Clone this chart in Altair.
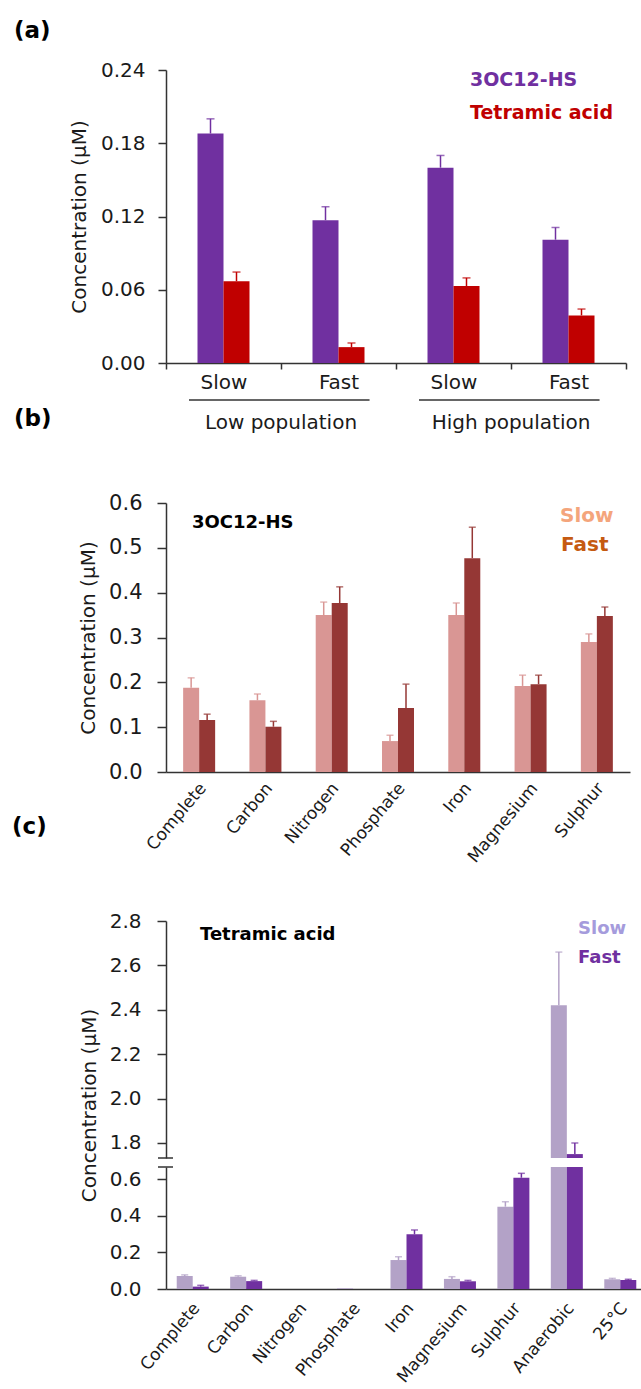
import altair as alt
import pandas as pd

# ---------------- data ----------------
# (a)
a_groups = ["Low-Slow", "Low-Fast", "High-Slow", "High-Fast"]
a_series = ["3OC12-HS", "Tetramic acid"]
a_hs = [0.188, 0.117, 0.160, 0.101]
a_hs_err = [0.200, 0.128, 0.170, 0.111]
a_ta = [0.067, 0.013, 0.063, 0.039]
a_ta_err = [0.0745, 0.0164, 0.0697, 0.0442]
populations = ["Low population", "High population"]

# (b)
b_cats = ["Complete", "Carbon", "Nitrogen", "Phosphate", "Iron", "Magnesium", "Sulphur"]
speeds = ["Slow", "Fast"]
b_slow = [0.188, 0.160, 0.350, 0.069, 0.350, 0.192, 0.290]
b_slow_err = [0.210, 0.174, 0.379, 0.082, 0.377, 0.216, 0.308]
b_fast = [0.116, 0.101, 0.377, 0.143, 0.477, 0.196, 0.348]
b_fast_err = [0.129, 0.113, 0.413, 0.196, 0.546, 0.216, 0.368]

# (c)
c_cats = ["Complete", "Carbon", "Nitrogen", "Phosphate", "Iron", "Magnesium",
          "Sulphur", "Anaerobic", "25°C"]
c_slow = [0.071, 0.067, 0.0, 0.004, 0.158, 0.055, 0.449, 2.42, 0.053]
c_slow_err = [0.077, 0.072, 0.0, 0.004, 0.176, 0.067, 0.476, 2.66, 0.058]
c_fast = [0.013, 0.043, 0.0, 0.0, 0.298, 0.042, 0.607, 1.75, 0.049]
c_fast_err = [0.020, 0.047, 0.0, 0.0, 0.322, 0.047, 0.631, 1.80, 0.053]
c_break_low = 0.6655   # top of lower segment
c_break_high = 1.7324  # bottom of upper segment

# ---------------- style ----------------
FONT = "DejaVu Sans"
INK = "#1a1a1a"
LINE = "#333333"
TITLE = "Concentration (µM)"


def label(text, x, y, size, color="#000000", weight="bold"):
    return alt.Chart(alt.Data(values=[{"t": text}])).mark_text(
        text=text, font=FONT, fontSize=size, fontWeight=weight, color=color,
        align="left", baseline="middle"
    ).encode(x=alt.value(x), y=alt.value(y))


def long_df(cats, series, vals, errs):
    rows = []
    for s, v, e in zip(series, vals, errs):
        for c, vv, ee in zip(cats, v, e):
            rows.append({"cat": c, "series": s, "value": vv, "err": ee})
    return pd.DataFrame(rows)


def pair_range(width, n, bar):
    step = width / n
    return [step / 2 - bar, step / 2 + bar]


# ---------------- panel (a) ----------------
A_W, A_H = 460, 293
a_df = long_df(a_groups, a_series, [a_hs, a_ta], [a_hs_err, a_ta_err])
a_x = alt.X("cat:N", sort=a_groups,
            scale=alt.Scale(domain=a_groups, paddingInner=0, paddingOuter=0),
            axis=alt.Axis(title=None, labelAngle=0,
                          labelExpr="split(datum.value, '-')[1]",
                          tickBand="extent", tickSize=6, labelFontSize=20,
                          labelPadding=3, labelBaseline="top"))
a_xo = alt.XOffset("series:N", sort=a_series,
                   scale=alt.Scale(domain=a_series, paddingInner=0, paddingOuter=0,
                                   range=pair_range(A_W, len(a_groups), 26)))
a_ys = alt.Scale(domain=[0, 0.24], nice=False)
a_ya = alt.Axis(title=TITLE, values=[0, 0.06, 0.12, 0.18, 0.24], format=".2f",
                labelFontSize=20, tickSize=8, labelPadding=13, titlePadding=11)
a_col = alt.Color("series:N", scale=alt.Scale(domain=a_series, range=["#7030a0", "#c00000"]),
                  legend=None)
a_base = alt.Chart(a_df).encode(x=a_x, xOffset=a_xo, color=a_col)
a_bars = a_base.mark_bar().encode(y=alt.Y("value:Q", scale=a_ys, axis=a_ya, stack=None))
a_err_df = a_base.transform_filter("datum.err > datum.value")
a_rule = a_err_df.mark_rule(strokeWidth=1.5).encode(
    y=alt.Y("value:Q", scale=a_ys, axis=a_ya), y2="err:Q")
a_cap = a_err_df.mark_tick(thickness=1.5, size=8).encode(
    y=alt.Y("err:Q", scale=a_ys, axis=a_ya))
a_main = alt.layer(a_bars, a_rule, a_cap)

pop_df = pd.DataFrame({
    "label": populations,
    "mid": [2 * i + 1.0 for i in range(len(populations))],
    "start": [2 * i + 0.2 for i in range(len(populations))],
    "end": [2 * i + 1.77 for i in range(len(populations))],
})
pop_scale = alt.Scale(domain=[0, len(a_groups)], nice=False, zero=False)
a_under = alt.Chart(pop_df).mark_rule(color=LINE, strokeWidth=1.5).encode(
    x=alt.X("start:Q", scale=pop_scale, axis=None), x2="end:Q", y=alt.value(330))
a_poptext = alt.Chart(pop_df).mark_text(font=FONT, fontSize=20, color=INK,
                                        baseline="middle").encode(
    x=alt.X("mid:Q", scale=pop_scale, axis=None), y=alt.value(353), text="label:N")
a_annot = alt.layer(a_under, a_poptext)

panel_a = alt.layer(
    a_main, a_annot,
    label("(a)", -152, -39, 23),
    label("3OC12-HS", 304, 10, 19, "#7030a0"),
    label("Tetramic acid", 304, 43, 19, "#c00000"),
).resolve_scale(x="independent").properties(width=A_W, height=A_H)

# ---------------- panel (b) ----------------
B_W, B_H = 464, 269
b_df = long_df(b_cats, speeds, [b_slow, b_fast], [b_slow_err, b_fast_err])
b_x = alt.X("cat:N", sort=b_cats,
            scale=alt.Scale(domain=b_cats, paddingInner=0, paddingOuter=0),
            axis=alt.Axis(title=None, labelAngle=-50, ticks=False, labelFontSize=17,
                          labelAlign="right", labelBaseline="middle", labelPadding=13,
                          labelOffset=4))
b_xo = alt.XOffset("series:N", sort=speeds,
                   scale=alt.Scale(domain=speeds, paddingInner=0, paddingOuter=0,
                                   range=pair_range(B_W, len(b_cats), 16)))
b_ys = alt.Scale(domain=[0, 0.6], nice=False)
b_ya = alt.Axis(title=TITLE, values=[0, 0.1, 0.2, 0.3, 0.4, 0.5, 0.6], format=".1f",
                labelFontSize=21, tickSize=9, labelPadding=15, titlePadding=10)
b_col = alt.Color("series:N", scale=alt.Scale(domain=speeds, range=["#d99694", "#953735"]),
                  legend=None)
b_base = alt.Chart(b_df).encode(x=b_x, xOffset=b_xo, color=b_col)
b_bars = b_base.mark_bar().encode(y=alt.Y("value:Q", scale=b_ys, axis=b_ya, stack=None))
b_err_df = b_base.transform_filter("datum.err > datum.value")
b_rule = b_err_df.mark_rule(strokeWidth=1.5).encode(
    y=alt.Y("value:Q", scale=b_ys, axis=b_ya), y2="err:Q")
b_cap = b_err_df.mark_tick(thickness=1.5, size=7).encode(
    y=alt.Y("err:Q", scale=b_ys, axis=b_ya))

panel_b = alt.layer(
    b_bars, b_rule, b_cap,
    label("(b)", -152, -84, 23),
    label("3OC12-HS", 26, 20, 18),
    label("Slow", 394, 13, 20, "#f4a57c"),
    label("Fast", 395, 42, 20, "#c55a11"),
).properties(width=B_W, height=B_H)

# ---------------- panel (c) ----------------
C_W, C_H = 481, 377
c_df = long_df(c_cats, speeds, [c_slow, c_fast], [c_slow_err, c_fast_err])
c_x = alt.X("cat:N", sort=c_cats,
            scale=alt.Scale(domain=c_cats, paddingInner=0, paddingOuter=0),
            axis=alt.Axis(title=None, labelAngle=-50, ticks=False, labelFontSize=17,
                          labelAlign="right", labelBaseline="middle", labelPadding=16,
                          labelOffset=4))
c_xo = alt.XOffset("series:N", sort=speeds,
                   scale=alt.Scale(domain=speeds, paddingInner=0, paddingOuter=0,
                                   range=pair_range(C_W, len(c_cats), 16)))
c_col = alt.Color("series:N", scale=alt.Scale(domain=speeds, range=["#b3a2c7", "#7030a0"]),
                  legend=None)
up_s = alt.Scale(domain=[c_break_high, 2.8], range=[246, 9], clamp=True, nice=False, zero=False)
up_a = alt.Axis(title=TITLE, values=[1.8, 2.0, 2.2, 2.4, 2.6, 2.8], format=".1f",
                labelFontSize=20, tickSize=9, labelPadding=16, titlePadding=10,
                titleY=193, orient="left")
lo_s = alt.Scale(domain=[0, c_break_low], range=[C_H, 255], clamp=True, nice=False)
lo_a = alt.Axis(title=None, values=[0, 0.2, 0.4, 0.6], format=".1f",
                labelFontSize=20, tickSize=9, labelPadding=16, orient="left")

c_base = alt.Chart(c_df).encode(x=c_x, xOffset=c_xo, color=c_col)
brk_df = alt.Data(values=[{"hi": c_break_high, "lo": c_break_low}])

u_bars = c_base.transform_filter(f"datum.value > {c_break_high}").mark_bar().encode(
    y=alt.Y("value:Q", scale=up_s, axis=up_a, stack=None), y2=alt.datum(c_break_high))
u_err = c_base.transform_filter(f"datum.err > {c_break_high} && datum.err > datum.value")
u_rule = u_err.mark_rule(strokeWidth=1.5).encode(
    y=alt.Y("value:Q", scale=up_s, axis=up_a), y2="err:Q")
u_cap = u_err.mark_tick(thickness=1.5, size=7).encode(y=alt.Y("err:Q", scale=up_s, axis=up_a))
u_brk = alt.Chart(brk_df).mark_rule(color=LINE, strokeWidth=1.5).encode(
    y=alt.Y("hi:Q", scale=up_s, axis=up_a), x=alt.value(-8), x2=alt.value(7))
upper = alt.layer(u_bars, u_rule, u_cap, u_brk)

l_bars = c_base.mark_bar().encode(y=alt.Y("value:Q", scale=lo_s, axis=lo_a, stack=None))
l_err = c_base.transform_filter(f"datum.err < {c_break_low} && datum.err > datum.value")
l_rule = l_err.mark_rule(strokeWidth=1.5).encode(
    y=alt.Y("value:Q", scale=lo_s, axis=lo_a), y2="err:Q")
l_cap = l_err.mark_tick(thickness=1.5, size=7).encode(y=alt.Y("err:Q", scale=lo_s, axis=lo_a))
l_brk = alt.Chart(brk_df).mark_rule(color=LINE, strokeWidth=1.5).encode(
    y=alt.Y("lo:Q", scale=lo_s, axis=lo_a), x=alt.value(-8), x2=alt.value(7))
lower = alt.layer(l_bars, l_rule, l_cap, l_brk)

panel_c = alt.layer(
    upper, lower,
    label("(c)", -154, -85, 23),
    label("Tetramic acid", 34, 23, 18),
    label("Slow", 412, 17, 18, "#a59bdc"),
    label("Fast", 412, 46, 18, "#7030a0"),
).resolve_scale(y="independent").properties(width=C_W, height=C_H)

# ---------------- assemble ----------------
chart = alt.vconcat(panel_a, panel_b, panel_c, spacing=140, bounds="flush").resolve_scale(
    x="independent", y="independent", xOffset="independent", color="independent",
).properties(
    padding={"left": 166, "top": 70, "right": 475, "bottom": 1319},
    autosize=alt.AutoSizeParams(type="none"),
).configure(font=FONT).configure_axis(
    labelFont=FONT, titleFont=FONT, labelColor=INK, titleColor=INK,
    domainColor=LINE, tickColor=LINE, domainWidth=1.5, tickWidth=1.5, grid=False,
    titleFontWeight="normal", titleFontSize=20,
).configure_view(strokeWidth=0)

chart.save("out.html", embed_options={"renderer": "svg", "actions": False})
